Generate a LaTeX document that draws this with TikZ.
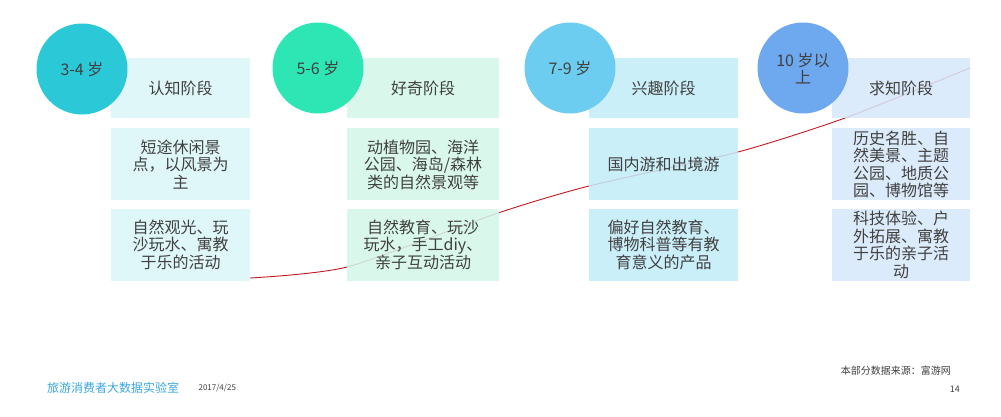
\documentclass[tikz,border=0pt]{standalone}
\usepackage{fontspec}
\setmainfont{Noto Sans CJK SC}
\usetikzlibrary{positioning}
\definecolor{txt}{HTML}{404040}
\definecolor{agea}{HTML}{2BC9D8}
\definecolor{ageb}{HTML}{2DE6B4}
\definecolor{agec}{HTML}{6CCDF0}
\definecolor{aged}{HTML}{6EA9F0}
\definecolor{boxa}{HTML}{DAF6F8}
\definecolor{boxb}{HTML}{D2F7E8}
\definecolor{boxc}{HTML}{C2ECF8}
\definecolor{boxd}{HTML}{D6E8FA}
\definecolor{trend}{HTML}{C0181E}
\definecolor{lab}{HTML}{3AA6E0}
\tikzstyle{agecircle} = [circle, minimum size=91pt, inner sep=0pt, text=txt, align=center, font=\fontsize{16}{17}\selectfont]
\tikzstyle{stagebox} = [rectangle, inner sep=0pt, text=txt, align=center, fill opacity=0.85, text opacity=1, font=\fontsize{16}{17.5}\selectfont]
\tikzstyle{toprow} = [stagebox, minimum height=60pt]
\tikzstyle{lowrow} = [stagebox, minimum height=72pt]

\begin{document}
\begin{tikzpicture}[x=1pt, y=-1pt]
	\useasboundingbox (0,0) rectangle (1001,416);
	\draw[trend, line width=0.9pt] plot[smooth, tension=0.4] coordinates
		{(250,278) (347,267) (498,213) (589,186) (738,152) (845,118) (970,68)};
	
	\node[toprow, fill=boxa, minimum width=139pt] (stage1) at (180.5,88) {认知阶段};
	\node[lowrow, fill=boxa, minimum width=139pt, below=10pt of stage1] (place1)
		{短途休闲景\\点，以风景为\\主};
	\node[lowrow, fill=boxa, minimum width=139pt, below=8pt of place1] (act1)
		{自然观光、玩\\沙玩水、寓教\\于乐的活动};
	
	\node[toprow, fill=boxb, minimum width=152pt] (stage2) at (423,88) {好奇阶段};
	\node[lowrow, fill=boxb, minimum width=152pt, below=10pt of stage2] (place2)
		{动植物园、海洋\\公园、海岛/森林\\类的自然景观等};
	\node[lowrow, fill=boxb, minimum width=152pt, below=8pt of place2] (act2)
		{自然教育、玩沙\\玩水，手工diy、\\亲子互动活动};
	
	\node[toprow, fill=boxc, minimum width=149pt] (stage3) at (663.5,88) {兴趣阶段};
	\node[lowrow, fill=boxc, minimum width=149pt, below=10pt of stage3] (place3)
		{国内游和出境游};
	\node[lowrow, fill=boxc, minimum width=149pt, below=8pt of place3] (act3)
		{偏好自然教育、\\博物科普等有教\\育意义的产品};
	
	\node[toprow, fill=boxd, minimum width=138pt] (stage4) at (901,88) {求知阶段};
	\node[lowrow, fill=boxd, minimum width=138pt, below=10pt of stage4] (place4)
		{历史名胜、自\\然美景、主题\\公园、地质公\\园、博物馆等};
	\node[lowrow, fill=boxd, minimum width=138pt, below=8pt of place4] (act4)
		{科技体验、户\\外拓展、寓教\\于乐的亲子活\\动};
	
	\node[agecircle, fill=agea] (age1) at (82,69) {3-4 岁};
	\node[agecircle, fill=ageb] (age2) at (318,68) {5-6 岁};
	\node[agecircle, fill=agec] (age3) at (570,68) {7-9 岁};
	\node[agecircle, fill=aged] (age4) at (803,68) {10 岁以\\上};
	
	\node[anchor=west, text=lab, font=\fontsize{12}{12}\selectfont, inner sep=0pt] (lab) at (47,388) {旅游消费者大数据实验室};
	\node[anchor=west, text=txt, font=\fontsize{8}{8}\selectfont, inner sep=0pt, right=19pt of lab] (date) {2017/4/25};
	\node[anchor=east, text=txt, font=\fontsize{10}{10}\selectfont, inner sep=0pt] (source) at (951,371) {本部分数据来源：富游网};
	\node[anchor=east, text=txt, font=\fontsize{9}{9}\selectfont, inner sep=0pt] (page) at (960,389) {14};
\end{tikzpicture}
\end{document}
